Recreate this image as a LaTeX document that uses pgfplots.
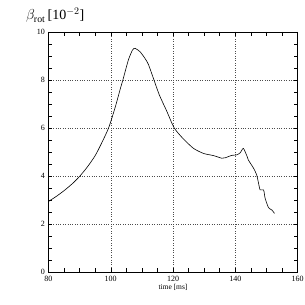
\documentclass[border=0pt]{standalone}
\usepackage{fontspec}
\setmainfont{Liberation Serif}
\usepackage{pgfplots}
\pgfplotsset{compat=1.18}
\begin{document}
\begin{tikzpicture}
\path[use as bounding box] (-48.5pt,-33pt) rectangle (256.5pt,272pt);
\begin{axis}[
  scale only axis,
  width=249pt, height=240pt,
  xmin=80, xmax=160, ymin=0, ymax=10,
  xtick={80,100,120,140,160}, ytick={0,2,4,6,8,10},
  minor x tick num=3, minor y tick num=3,
  tick align=inside, tick pos=both,
  major tick length=4pt, minor tick length=4pt,
  every tick/.style={black, line width=0.4pt},
  grid=major,
  major grid style={dotted, black!70, line width=0.4pt},
  axis line style={line width=0.5pt},
  tick label style={font=\fontsize{8}{9}\selectfont},
  /pgf/number format/assume math mode=true,
  xticklabel style={yshift=-1pt},
  xlabel={time [ms]},
  xlabel style={font=\fontsize{7.5}{8}\selectfont, yshift=5pt},
]
\addplot[black, line width=0.6pt, smooth, tension=0.4] coordinates {
(80,2.94) (82.5,3.15) (85.3,3.42) (88,3.72) (90.1,4.0) (92.5,4.38) (95,4.85) (97.1,5.38) (99.3,6.0) (101.4,6.85) (103,7.6) (104,8.05) (105.7,8.85) (107,9.25) (107.8,9.32) (109.4,9.18) (111,8.9) (112.1,8.65) (113.7,8.07) (115.6,7.38) (118,6.7) (120.4,6.0) (123.3,5.55) (126.6,5.15) (129.8,4.94) (133,4.85) (135.7,4.74) (136.8,4.76) (138.9,4.86) (140.5,4.88) (141.6,4.97) (142.6,5.15) (143.7,4.85) (144.2,4.67) (145.9,4.32) (146.9,4.04) (147.5,3.69) (148,3.42) (149.1,3.42) (149.6,3.07) (150.7,2.68) (151.8,2.58) (152.6,2.44)
};
\end{axis}
\node[anchor=base west, font=\fontsize{14}{16}\selectfont] at (-26pt,252pt) {$\beta_{\mathrm{rot}}$\,[10$^{-2}$]};
\end{tikzpicture}
\end{document}
